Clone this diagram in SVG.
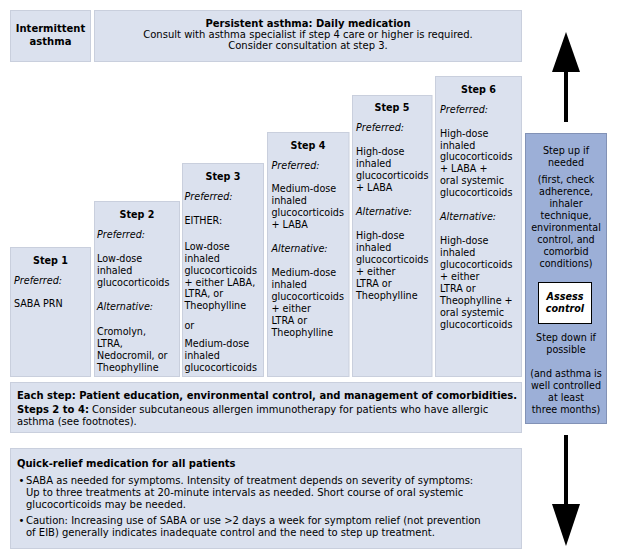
<svg xmlns="http://www.w3.org/2000/svg" width="617" height="559" viewBox="0 0 617 559">
<style>
.box{fill:#dbe1ee;stroke:#c9cfdd;stroke-width:1}
.panel{fill:#9cafd7;stroke:#8292b6;stroke-width:1}
text{font-family:"DejaVu Sans","Verdana",sans-serif;fill:#000}
.w{font-size:10px}
.s{font-size:9.6px}
.b{font-weight:bold}
.i{font-style:italic}
.c{text-anchor:middle}
.arrow{fill:#000}
</style>
<rect width="617" height="559" fill="#fff"/>

<g id="intermittent">
<rect class="box" x="10.5" y="10.5" width="80" height="51"/>
<text class="w b c" x="50.5" y="32">Intermittent</text>
<text class="w b c" x="50.5" y="45">asthma</text>
</g>

<g id="persistent">
<rect class="box" x="94.5" y="10.5" width="427" height="51"/>
<text class="w b c" x="308" y="27">Persistent asthma: Daily medication</text>
<text class="w c" x="308" y="38">Consult with asthma specialist if step 4 care or higher is required.</text>
<text class="w c" x="308" y="49.2">Consider consultation at step 3.</text>
</g>

<g id="step1">
<rect class="box" x="10.5" y="247.5" width="80" height="129"/>
<text class="s b c" x="50.5" y="264">Step 1</text>
<text class="s i" x="14" y="283.5">Preferred:</text>
<text class="s" x="14" y="307">SABA PRN</text>
</g>

<g id="step2">
<rect class="box" x="94.5" y="201.5" width="85" height="175"/>
<text class="s b c" x="137" y="218">Step 2</text>
<text class="s i" x="97" y="237.5">Preferred:</text>
<text class="s" x="97" y="261.5">Low-dose</text>
<text class="s" x="97" y="273.5">inhaled</text>
<text class="s" x="97" y="285.5">glucocorticoids</text>
<text class="s i" x="97" y="310">Alternative:</text>
<text class="s" x="97" y="334.5">Cromolyn,</text>
<text class="s" x="97" y="346.5">LTRA,</text>
<text class="s" x="97" y="358.5">Nedocromil, or</text>
<text class="s" x="97" y="370.5">Theophylline</text>
</g>

<g id="step3">
<rect class="box" x="182.5" y="163.5" width="81" height="213"/>
<text class="s b c" x="223" y="180">Step 3</text>
<text class="s i" x="184.5" y="200">Preferred:</text>
<text class="s" x="184.5" y="223.5">EITHER:</text>
<text class="s" x="184.5" y="249.5">Low-dose</text>
<text class="s" x="184.5" y="261.5">inhaled</text>
<text class="s" x="184.5" y="273.5">glucocorticoids</text>
<text class="s" x="184.5" y="285.5">+ either LABA,</text>
<text class="s" x="184.5" y="297.3">LTRA, or</text>
<text class="s" x="184.5" y="309">Theophylline</text>
<text class="s" x="184.5" y="328.5">or</text>
<text class="s" x="184.5" y="347">Medium-dose</text>
<text class="s" x="184.5" y="358.8">inhaled</text>
<text class="s" x="184.5" y="370.5">glucocorticoids</text>
</g>

<g id="step4">
<rect class="box" x="267.5" y="132.5" width="81.5" height="244"/>
<text class="s b c" x="308" y="149">Step 4</text>
<text class="s i" x="271.5" y="168.8">Preferred:</text>
<text class="s" x="271.5" y="192">Medium-dose</text>
<text class="s" x="271.5" y="204">inhaled</text>
<text class="s" x="271.5" y="216">glucocorticoids</text>
<text class="s" x="271.5" y="228">+ LABA</text>
<text class="s i" x="271.5" y="252">Alternative:</text>
<text class="s" x="271.5" y="276">Medium-dose</text>
<text class="s" x="271.5" y="288">inhaled</text>
<text class="s" x="271.5" y="300">glucocorticoids</text>
<text class="s" x="271.5" y="312">+ either</text>
<text class="s" x="271.5" y="324">LTRA or</text>
<text class="s" x="271.5" y="335.5">Theophylline</text>
</g>

<g id="step5">
<rect class="box" x="352.5" y="95.5" width="79.5" height="281"/>
<text class="s b c" x="392" y="111">Step 5</text>
<text class="s i" x="356" y="131">Preferred:</text>
<text class="s" x="356" y="155">High-dose</text>
<text class="s" x="356" y="166.8">inhaled</text>
<text class="s" x="356" y="178.7">glucocorticoids</text>
<text class="s" x="356" y="190.5">+ LABA</text>
<text class="s i" x="356" y="215">Alternative:</text>
<text class="s" x="356" y="239">High-dose</text>
<text class="s" x="356" y="250.8">inhaled</text>
<text class="s" x="356" y="262.7">glucocorticoids</text>
<text class="s" x="356" y="274.5">+ either</text>
<text class="s" x="356" y="286.5">LTRA or</text>
<text class="s" x="356" y="298.5">Theophylline</text>
</g>

<g id="step6">
<rect class="box" x="435.5" y="76.5" width="86" height="300"/>
<text class="s b c" x="478.5" y="92.5">Step 6</text>
<text class="s i" x="440" y="112.5">Preferred:</text>
<text class="s" x="440" y="136.8">High-dose</text>
<text class="s" x="440" y="148.5">inhaled</text>
<text class="s" x="440" y="160.2">glucocorticoids</text>
<text class="s" x="440" y="171.8">+ LABA +</text>
<text class="s" x="440" y="183.5">oral systemic</text>
<text class="s" x="440" y="195.8">glucocorticoids</text>
<text class="s i" x="440" y="220.2">Alternative:</text>
<text class="s" x="440" y="244.2">High-dose</text>
<text class="s" x="440" y="256.2">inhaled</text>
<text class="s" x="440" y="267.8">glucocorticoids</text>
<text class="s" x="440" y="280.2">+ either</text>
<text class="s" x="440" y="291.8">LTRA or</text>
<text class="s" x="440" y="303.5">Theophylline +</text>
<text class="s" x="440" y="315.8">oral systemic</text>
<text class="s" x="440" y="327.8">glucocorticoids</text>
</g>

<g id="assess-panel">
<rect class="panel" x="525.5" y="133.5" width="81" height="290"/>
<text class="s c" x="566" y="154">Step up if</text>
<text class="s c" x="566" y="166">needed</text>
<text class="s c" x="566" y="182.5">(first, check</text>
<text class="s c" x="566" y="194.5">adherence,</text>
<text class="s c" x="566" y="206.5">inhaler</text>
<text class="s c" x="566" y="218.5">technique,</text>
<text class="s c" x="566" y="230.5">environmental</text>
<text class="s c" x="566" y="242.5">control, and</text>
<text class="s c" x="566" y="254.5">comorbid</text>
<text class="s c" x="566" y="266.5">conditions)</text>
<g id="assess-control">
<rect x="538.5" y="282.5" width="53" height="41" fill="#fff" stroke="#000" stroke-width="1"/>
<text class="s b i c" x="565" y="300.2">Assess</text>
<text class="s b i c" x="565" y="312">control</text>
</g>
<text class="s c" x="566" y="341.2">Step down if</text>
<text class="s c" x="566" y="353.2">possible</text>
<text class="s c" x="566" y="377">(and asthma is</text>
<text class="s c" x="566" y="389">well controlled</text>
<text class="s c" x="566" y="401">at least</text>
<text class="s c" x="566" y="413">three months)</text>
</g>

<g id="each-step">
<rect class="box" x="10.5" y="382.5" width="511" height="50"/>
<text class="w b" x="17" y="398.5">Each step: Patient education, environmental control, and management of comorbidities.</text>
<text class="w" x="17" y="413"><tspan class="b">Steps 2 to 4:</tspan> Consider subcutaneous allergen immunotherapy for patients who have allergic</text>
<text class="w" x="17" y="425">asthma (see footnotes).</text>
</g>

<g id="quick-relief">
<rect class="box" x="10.5" y="448.5" width="511" height="100"/>
<text class="w b" x="17" y="466.5">Quick-relief medication for all patients</text>
<text class="w" x="18.5" y="483.5">•</text>
<text class="w" x="26" y="483.5">SABA as needed for symptoms. Intensity of treatment depends on severity of symptoms:</text>
<text class="w" x="26" y="495.5">Up to three treatments at 20-minute intervals as needed. Short course of oral systemic</text>
<text class="w" x="26" y="508">glucocorticoids may be needed.</text>
<text class="w" x="18.5" y="524">•</text>
<text class="w" x="26" y="524">Caution: Increasing use of SABA or use &gt;2 days a week for symptom relief (not prevention</text>
<text class="w" x="26" y="536">of EIB) generally indicates inadequate control and the need to step up treatment.</text>
</g>

<g id="connectors">
<rect class="arrow" x="564" y="70" width="4" height="52"/>
<polygon class="arrow" points="552,72 566,32 580,72"/>
<rect class="arrow" x="564" y="435" width="4" height="71"/>
<polygon class="arrow" points="552,504 580,504 566,546"/>
</g>
</svg>
